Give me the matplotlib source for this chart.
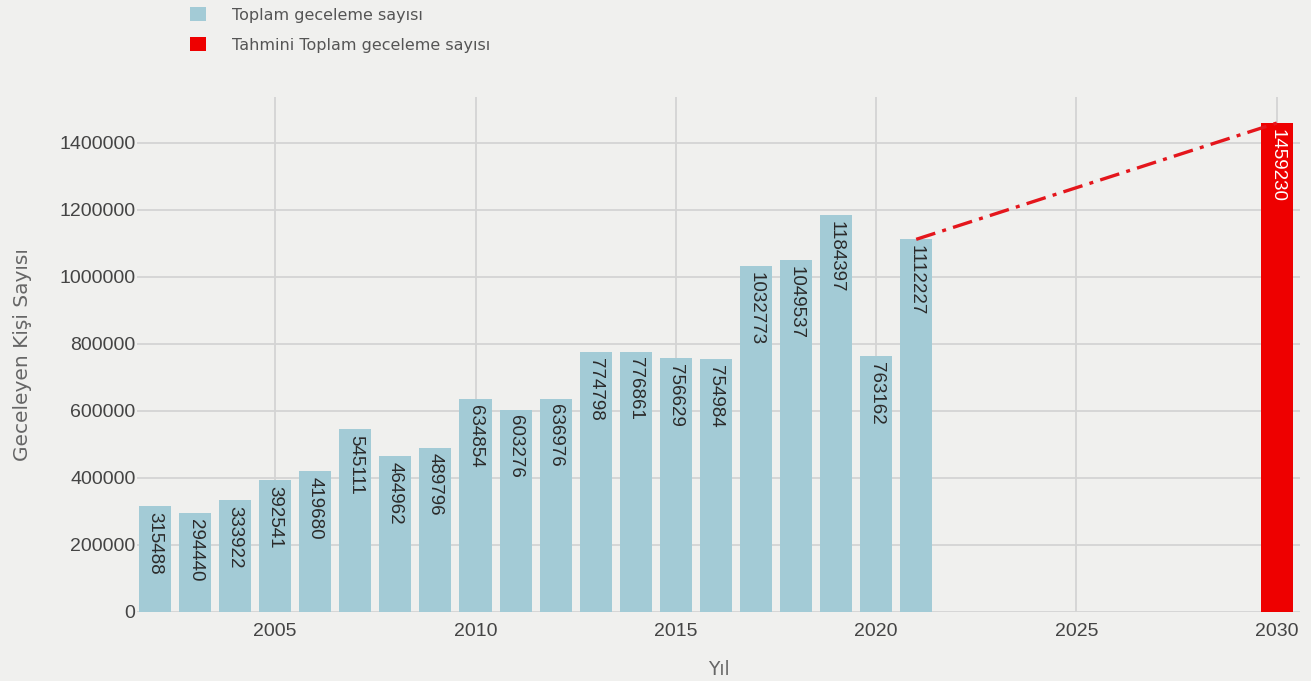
import matplotlib
matplotlib.use("Agg")
import matplotlib.pyplot as plt
from matplotlib.patches import Patch

years = [2002, 2003, 2004, 2005, 2006, 2007, 2008, 2009, 2010, 2011,
         2012, 2013, 2014, 2015, 2016, 2017, 2018, 2019, 2020, 2021]
values = [315488, 294440, 333922, 392541, 419680, 545111, 464962, 489796,
          634854, 603276, 636976, 774798, 776861, 756629, 754984, 1032773,
          1049537, 1184397, 763162, 1112227]
forecast_year = [2030]
forecast_value = [1459230]
x_ticks = [2005, 2010, 2015, 2020, 2025, 2030]
y_ticks = [0, 200000, 400000, 600000, 800000, 1000000, 1200000, 1400000]

BG = "#f0f0ee"
BLUE = "#a3cbd6"
RED = "#ee0000"

fig = plt.figure(figsize=(13.11, 6.81), dpi=100, facecolor=BG)
ax = fig.add_axes([137/1311, 1-612/681, (1300-137)/1311, (612-97)/681])
ax.set_facecolor(BG)

ax.bar(years, values, width=0.8, color=BLUE, zorder=2)
ax.bar(forecast_year, forecast_value, width=0.8, color=RED, zorder=2)
ax.plot([years[-1], forecast_year[0]], [values[-1], forecast_value[0]],
        color="#e4161c", lw=2.4, ls=(0, (6, 2.2, 1.2, 2.2)), zorder=3)

for x, v in zip(years, values):
    ax.annotate(str(v), (x, v), xytext=(0, -4), textcoords="offset points",
                rotation=-90, ha="center", va="top", fontsize=13.5,
                color="#2a2a2a", family="Liberation Sans", zorder=4)
for x, v in zip(forecast_year, forecast_value):
    ax.annotate(str(v), (x, v), xytext=(0, -4), textcoords="offset points",
                rotation=-90, ha="center", va="top", fontsize=13.5,
                color="white", family="Liberation Sans", zorder=4)

ax.set_xlim(2001.55, 2030.58)
ax.set_ylim(0, 1537000)
ax.set_xticks(x_ticks)
ax.set_yticks(y_ticks)
ax.set_xticklabels([str(t) for t in x_ticks], family="Liberation Sans", fontsize=14, color="#444444")
ax.set_yticklabels([str(t) for t in y_ticks], family="Liberation Sans", fontsize=14, color="#444444")
ax.tick_params(length=0)
ax.tick_params(axis="y", pad=1)
ax.tick_params(axis="x", pad=8)
for s in ax.spines.values():
    s.set_visible(False)
ax.grid(True, color="#d4d4d4", lw=1.3, zorder=0)
ax.set_axisbelow(True)

ax.set_xlabel("Yıl", family="DejaVu Sans", fontsize=13.5, color="#666666", labelpad=14)
ax.set_ylabel("Geceleyen Kişi Sayısı", family="DejaVu Sans", fontsize=14.5, color="#666666", labelpad=20)

handles = [Patch(facecolor=BLUE, label="Toplam geceleme sayısı"),
           Patch(facecolor=RED, label="Tahmini Toplam geceleme sayısı")]
leg = fig.legend(handles=handles, loc="upper left", bbox_to_anchor=(186/1311, 1-3/681),
                 frameon=False, prop={"family": "DejaVu Sans", "size": 11.5},
                 handlelength=1.0, handleheight=1.0, handletextpad=1.6,
                 labelspacing=0.9, borderaxespad=0.0, borderpad=0.25)
for t in leg.get_texts():
    t.set_color("#555555")

fig.savefig("out.png", dpi=100, facecolor=BG)
